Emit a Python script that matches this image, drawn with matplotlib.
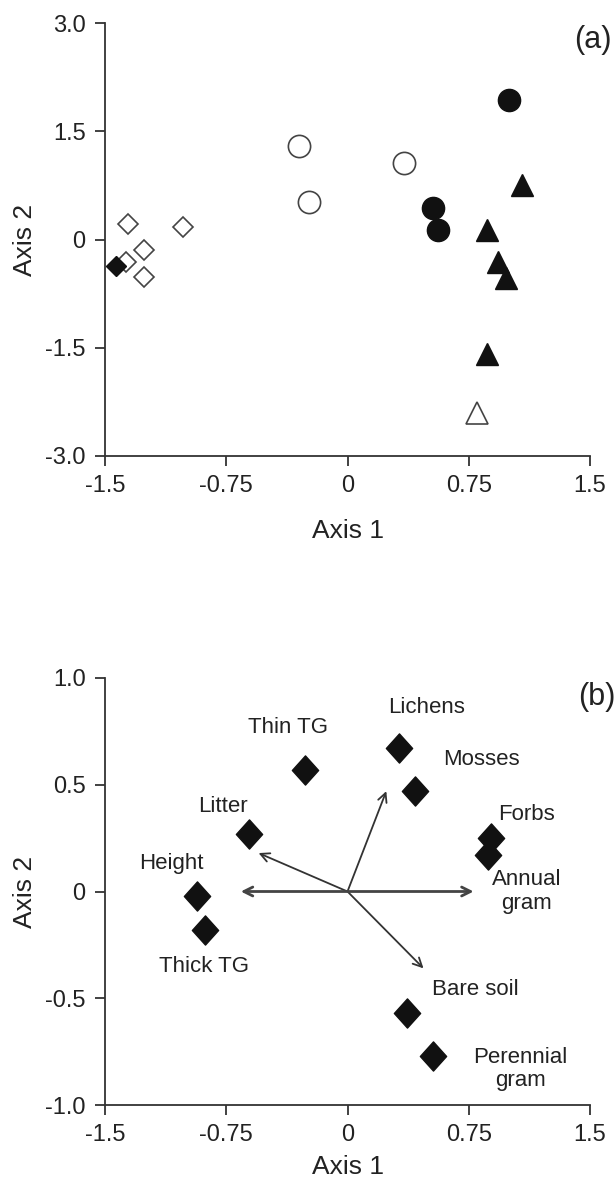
import matplotlib
matplotlib.use("Agg")
import matplotlib.pyplot as plt
from matplotlib.path import Path

plt.rcParams['font.family'] = ['Liberation Sans', 'DejaVu Sans']

# ---------------- data: panel (a) sites ----------------
open_diamond_x = [-1.36, -1.02, -1.26, -1.37, -1.26]
open_diamond_y = [0.22, 0.18, -0.14, -0.31, -0.52]
filled_diamond_x = [-1.43]
filled_diamond_y = [-0.37]
open_circle_x = [-0.30, -0.24, 0.35]
open_circle_y = [1.29, 0.52, 1.06]
filled_circle_x = [0.53, 0.56, 1.00]
filled_circle_y = [0.43, 0.13, 1.93]
filled_tri_x = [1.08, 0.86, 0.93, 0.98, 0.86]
filled_tri_y = [0.75, 0.13, -0.31, -0.54, -1.59]
open_tri_x = [0.80]
open_tri_y = [-2.41]

a_xticks = [-1.5, -0.75, 0, 0.75, 1.5]
a_xticklabels = ["-1.5", "-0.75", "0", "0.75", "1.5"]
a_yticks = [-3.0, -1.5, 0, 1.5, 3.0]
a_yticklabels = ["-3.0", "-1.5", "0", "1.5", "3.0"]

# ---------------- data: panel (b) variables ----------------
var_names = ["Thin TG", "Lichens", "Mosses", "Litter", "Forbs", "Annual gram",
             "Height", "Thick TG", "Bare soil", "Perennial gram"]
var_x = [-0.26, 0.32, 0.42, -0.61, 0.89, 0.87, -0.93, -0.88, 0.37, 0.53]
var_y = [0.57, 0.67, 0.47, 0.27, 0.25, 0.17, -0.02, -0.18, -0.57, -0.77]
label_text = ["Thin TG", "Lichens", "Mosses", "Litter", "Forbs", "Annual\ngram",
              "Height", "Thick TG", "Bare soil", "Perennial\ngram"]
label_x = [-0.37, 0.49, 0.83, -0.77, 1.11, 1.11, -1.09, -0.89, 0.79, 1.07]
label_y = [0.77, 0.86, 0.62, 0.40, 0.36, 0.00, 0.13, -0.35, -0.46, -0.83]

arrow_x = [-0.55, 0.24, 0.47]
arrow_y = [0.18, 0.47, -0.36]
hline_x = [-0.66, 0.78]

b_xticks = [-1.5, -0.75, 0, 0.75, 1.5]
b_xticklabels = ["-1.5", "-0.75", "0", "0.75", "1.5"]
b_yticks = [-1.0, -0.5, 0, 0.5, 1.0]
b_yticklabels = ["-1.0", "-0.5", "0", "0.5", "1.0"]

# ---------------- figure ----------------
W, H = 616, 1187
fig = plt.figure(figsize=(W / 100, H / 100), dpi=100)
fig.patch.set_facecolor('white')

def ax_px(l, r, t, b):
    return fig.add_axes([l / W, 1 - b / H, (r - l) / W, (b - t) / H])

spine_c = '#333333'
text_c = '#222222'

def style(ax, xt, xtl, yt, ytl):
    for s in ['top', 'right']:
        ax.spines[s].set_visible(False)
    for s in ['left', 'bottom']:
        ax.spines[s].set_color(spine_c)
        ax.spines[s].set_linewidth(1.3)
    ax.set_xticks(xt)
    ax.set_xticklabels(xtl)
    ax.set_yticks(yt)
    ax.set_yticklabels(ytl)
    ax.tick_params(axis='both', direction='out', length=7, width=1.3,
                   color=spine_c, labelsize=17, labelcolor=text_c, pad=7)
    ax.set_xlabel("Axis 1", fontsize=19, color=text_c)
    ax.set_ylabel("Axis 2", fontsize=19, color=text_c)

# Panel (a)
axa = ax_px(105, 590, 23, 456)
axa.set_xlim(-1.5, 1.5)
axa.set_ylim(-3.0, 3.0)
style(axa, a_xticks, a_xticklabels, a_yticks, a_yticklabels)
axa.xaxis.set_label_coords(0.5, -0.145)
axa.yaxis.set_label_coords(-0.14, 0.5)

ms = 16
axa.plot(open_diamond_x, open_diamond_y, 'D', ms=10.5, mfc='white', mec='#444444', mew=1.2, ls='none')
axa.plot(filled_diamond_x, filled_diamond_y, 'D', ms=10.5, mfc='#111111', mec='#111111', ls='none')
axa.plot(open_circle_x, open_circle_y, 'o', ms=ms, mfc='white', mec='#444444', mew=1.2, ls='none')
axa.plot(filled_circle_x, filled_circle_y, 'o', ms=ms, mfc='#111111', mec='#111111', ls='none')
axa.plot(filled_tri_x, filled_tri_y, '^', ms=ms, mfc='#111111', mec='#111111', ls='none')
axa.plot(open_tri_x, open_tri_y, '^', ms=ms, mfc='white', mec='#444444', mew=1.2, ls='none')
axa.text(1.52, 2.76, "(a)", fontsize=22, color=text_c, ha='center', va='center', clip_on=False)

# Panel (b)
axb = ax_px(105, 590, 678, 1105)
axb.set_xlim(-1.5, 1.5)
axb.set_ylim(-1.0, 1.0)
style(axb, b_xticks, b_xticklabels, b_yticks, b_yticklabels)
axb.xaxis.set_label_coords(0.5, -0.118)
axb.yaxis.set_label_coords(-0.14, 0.5)

diamond = Path([(0, 0.5), (0.45, 0), (0, -0.5), (-0.45, 0), (0, 0.5)],
               [Path.MOVETO, Path.LINETO, Path.LINETO, Path.LINETO, Path.CLOSEPOLY])
axb.plot(var_x, var_y, marker=diamond, ms=21, mfc='#111111', mec='#111111', ls='none')

for t, x, y in zip(label_text, label_x, label_y):
    axb.text(x, y, t, fontsize=16, color=text_c, ha='center', va='center',
             linespacing=1.15, clip_on=False)

aprops = dict(arrowstyle='->', color='#333333', lw=1.3, mutation_scale=16,
              shrinkA=0, shrinkB=0)
for x, y in zip(arrow_x, arrow_y):
    axb.annotate("", xy=(x, y), xytext=(0, 0), arrowprops=aprops)
hprops = dict(arrowstyle='<->', color='#444444', lw=2.0, mutation_scale=16,
              shrinkA=0, shrinkB=0)
axb.annotate("", xy=(hline_x[1], 0), xytext=(hline_x[0], 0), arrowprops=hprops)
axb.text(1.54, 0.91, "(b)", fontsize=22, color=text_c, ha='center', va='center', clip_on=False)

fig.savefig("out.png", dpi=100, facecolor='white')
